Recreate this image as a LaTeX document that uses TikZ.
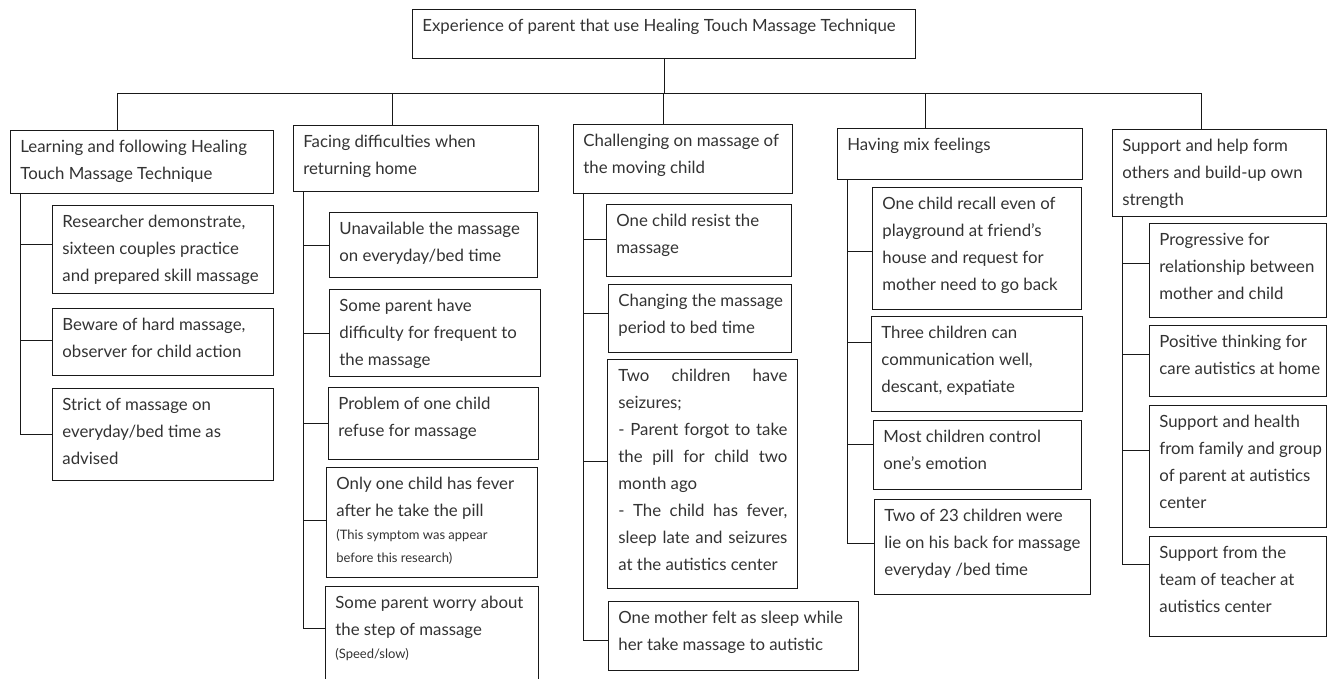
\documentclass[tikz,border=0pt]{standalone}
\usepackage{fontspec}
\setmainfont{Lato}
\usetikzlibrary{positioning}
\tikzset{
        base/.style={draw=black!90, line width=0.8pt, inner sep=0pt,
                     anchor=north west, text=black!80,
                     font=\fontsize{16.8}{27}\selectfont},
        link/.style={draw=black!90, line width=0.8pt},
}
\newcommand{\cell}[3]{\begin{minipage}[t][#2pt][t]{#1pt}\raggedright
  \leftskip=10pt\rule{0pt}{22pt}#3\end{minipage}}
\newcommand{\jcell}[3]{\begin{minipage}[t][#2pt][t]{#1pt}
  \leftskip=11pt\rightskip=10pt\rule{0pt}{22pt}#3\end{minipage}}
\newcommand{\note}[1]{\par{\fontsize{13}{23}\selectfont #1\par}}

\begin{document}
\begin{tikzpicture}[x=1pt, y=-1pt]
    \useasboundingbox[fill=white] (0,0) rectangle (1327,678);
    \node[base] (top) at (412,9) {\cell{503}{49}{Experience of parent that use Healing Touch Massage Technique}};

    % main themes
    \node[base] (h1) at (10,130) {\cell{263}{63}{Learning and following Healing\\Touch Massage Technique}};
    \node[base] (h2) at (293,125) {\cell{245}{66}{Facing difficulties when\\returning home}};
    \node[base] (h3) at (573,124) {\cell{219}{69}{Challenging on massage of\\the moving child}};
    \node[base] (h4) at (837,128) {\cell{245}{51}{Having mix feelings}};
    \node[base] (h5) at (1112,129) {\cell{214}{87}{Support and help form\\others and build-up own\\strength}};

    % sub themes
    \node[base] (c1a) at (52,205) {\cell{221}{88}{Researcher demonstrate,\\sixteen couples practice\\and prepared skill massage}};
    \node[base] (c1b) at (52,308) {\cell{221}{67}{Beware of hard massage,\\observer for child action}};
    \node[base] (c1c) at (52,388) {\cell{221}{92}{Strict of massage on\\everyday/bed time as\\advised}};

    \node[base] (c2a) at (329,212) {\cell{208}{65}{Unavailable the massage\\on everyday/bed time}};
    \node[base] (c2b) at (329,289) {\cell{211}{87}{Some parent have\\difficulty for frequent to\\the massage}};
    \node[base] (c2c) at (328,387) {\cell{210}{72}{Problem of one child\\refuse for massage}};
    \node[base] (c2d) at (326,467) {\cell{211}{110}{Only one child has fever\\after he take the pill
        \note{(This symptom was appear\\before this research)}}};
    \node[base] (c2e) at (325,586) {\cell{213}{104}{Some parent worry about\\the step of massage
        \note{(Speed/slow)}}};

    \node[base] (c3a) at (606,204) {\cell{185}{72}{One child resist the\\massage}};
    \node[base] (c3b) at (608,284) {\cell{183}{68}{Changing the massage\\period to bed time}};
    \node[base] (c3c) at (607,359) {\jcell{190}{229}{Two children have\linebreak seizures;\par
        - Parent forgot to take\linebreak the pill for child two\linebreak month ago\par
        - The child has fever,\linebreak sleep late and seizures\linebreak at the autistics center}};
    \node[base] (c3d) at (608,601) {\cell{250}{69}{One mother felt as sleep while\\her take massage to autistic}};

    \node[base] (c4a) at (872,187) {\cell{209}{122}{One child recall even of\\playground at friend’s\\house and request for\\mother need to go back}};
    \node[base] (c4b) at (871,316) {\cell{211}{95}{Three children can\\communication well,\\descant, expatiate}};
    \node[base] (c4c) at (873,420) {\cell{208}{69}{Most children control\\one’s emotion}};
    \node[base] (c4d) at (874,499) {\cell{216}{95}{Two of 23 children were\\lie on his back for massage\\everyday /bed time}};

    \node[base] (c5a) at (1149,223) {\cell{177}{94}{Progressive for\\relationship between\\mother and child}};
    \node[base] (c5b) at (1149,325) {\cell{177}{71}{Positive thinking for\\care autistics at home}};
    \node[base] (c5c) at (1149,405) {\cell{177}{122}{Support and health\\from family and group\\of parent at autistics\\center}};
    \node[base] (c5d) at (1149,536) {\cell{177}{100}{Support from the\\team of teacher at\\autistics center}};

    % tree lines
    \coordinate (b1) at (117,93);
    \coordinate (b2) at (392,93);
    \coordinate (b3) at (663,93);
    \coordinate (b4) at (925,93);
    \coordinate (b5) at (1201,93);
    \draw[link] (top.south) -- (top.south |- b1);
    \draw[link] (b1) -- (b5);
    \foreach \i in {1,...,5} {
        \draw[link] (b\i) -- (b\i |- h\i.north);
        \coordinate (s\i) at ([xshift=10pt]h\i.south west);
    }
    \foreach \i/\c/\d in {1/c1a/5, 1/c1b/2, 1/c1c/0,
                          2/c2a/0, 2/c2b/0, 2/c2c/0, 2/c2d/2, 2/c2e/10,
                          3/c3a/1, 3/c3b/5, 3/c3c/13, 3/c3d/-4,
                          4/c4a/-3, 4/c4b/22, 4/c4c/11, 4/c4d/4,
                          5/c5a/7, 5/c5b/7, 5/c5c/16, 5/c5d/22}
        \draw[link] (s\i) |- ([yshift=\d pt]\c.west);
\end{tikzpicture}
\end{document}
